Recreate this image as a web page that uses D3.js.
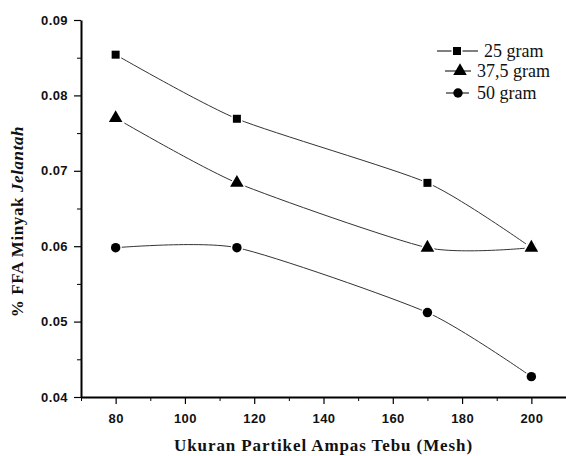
<!DOCTYPE html>
<html>
<head>
<meta charset="utf-8">
<script src="https://cdnjs.cloudflare.com/ajax/libs/d3/7.8.5/d3.min.js"></script>
<style>
  body { margin: 0; background: #fff; }
  .tick text { font-family: Arial, "Liberation Sans", sans-serif; font-weight: bold; font-size: 13px; letter-spacing: 0.4px; fill: #111; }
  .axis path, .axis line { stroke: #000; }
  .serif { font-family: "Liberation Serif", "Times New Roman", Times, serif; fill: #111; }
</style>
</head>
<body>
<div class="chart"></div>
<script>
// データ
const meshSizes = [80, 115, 170, 200];
const ffa25 = [0.0854, 0.0769, 0.0684, 0.0598];
const ffa375 = [0.0770, 0.0684, 0.0598, 0.0598];
const ffa50 = [0.0598, 0.0598, 0.0512, 0.0427];
const seriesNames = ["25 gram", "37,5 gram", "50 gram"];
const xTickValues = [80, 100, 120, 140, 160, 180, 200];
const xMinorValues = [70, 90, 110, 130, 150, 170, 190, 210];
const yTickValues = [0.04, 0.05, 0.06, 0.07, 0.08, 0.09];
const yMinorValues = [0.045, 0.055, 0.065, 0.075, 0.085];

const W = 566, H = 456;
const margin = { top: 20, right: 0, bottom: 59, left: 81 };
const width = W - margin.left - margin.right;
const height = H - margin.top - margin.bottom;

const svg = d3.select(".chart").append("svg")
    .attr("width", W).attr("height", H)
    .append("g")
    .attr("transform", `translate(${margin.left},${margin.top})`);

const x = d3.scaleLinear().domain([70, 210]).range([0, width]);
const y = d3.scaleLinear().domain([0.04, 0.09]).range([height, 0]);

// 軸
svg.append("g").attr("class", "axis")
    .attr("transform", `translate(0,${height})`)
    .call(d3.axisBottom(x).tickValues(xMinorValues).tickSize(4).tickFormat(""))
    .call(g => g.select(".domain").remove())
    .selectAll("line").attr("stroke-width", 1);

svg.append("g").attr("class", "axis")
    .attr("transform", `translate(0,${height})`)
    .call(d3.axisBottom(x).tickValues(xTickValues).tickSize(7).tickSizeOuter(0).tickPadding(10))
    .call(g => g.select(".domain").attr("stroke-width", 2))
    .selectAll("line").attr("stroke-width", 1.2);

svg.append("g").attr("class", "axis")
    .call(d3.axisLeft(y).tickValues(yMinorValues).tickSize(4).tickFormat(""))
    .call(g => g.select(".domain").remove())
    .selectAll("line").attr("stroke-width", 1);

svg.append("g").attr("class", "axis")
    .call(d3.axisLeft(y).tickValues(yTickValues).tickSize(7).tickSizeOuter(0).tickPadding(6).tickFormat(d3.format(".2f")))
    .call(g => g.select(".domain").attr("stroke-width", 2))
    .selectAll("line").attr("stroke-width", 1.2);

// 軸タイトル
svg.append("text")
    .attr("class", "serif")
    .attr("x", width / 2)
    .attr("y", height + 54)
    .attr("text-anchor", "middle")
    .style("font-weight", "bold")
    .style("font-size", "17px")
    .style("letter-spacing", "0.9px")
    .text("Ukuran Partikel Ampas Tebu (Mesh)");

const yTitle = svg.append("text")
    .attr("class", "serif")
    .attr("transform", `translate(${-58},${height / 2 + 13}) rotate(-90)`)
    .attr("text-anchor", "middle")
    .style("font-weight", "bold")
    .style("font-size", "17px")
    .style("letter-spacing", "0.6px");
yTitle.append("tspan").text("% FFA Minyak ");
yTitle.append("tspan").style("font-style", "italic").text("Jelantah");

// 系列
const series = [ffa25, ffa375, ffa50].map((vals, i) => ({
    name: seriesNames[i],
    points: meshSizes.map((m, j) => ({ mesh: m, ffa: vals[j] }))
}));
const symbols = [d3.symbolSquare, d3.symbolTriangle, d3.symbolCircle];
const symSizes = [64, 80, 70];

const line = d3.line()
    .x(d => x(d.mesh))
    .y(d => y(d.ffa))
    .curve(d3.curveCardinal.tension(0.35));

svg.selectAll(".series-line")
    .data(series)
    .enter().append("path")
    .attr("class", "series-line")
    .attr("d", d => line(d.points))
    .attr("fill", "none")
    .attr("stroke", "#333")
    .attr("stroke-width", 1);

series.forEach((s, i) => {
    svg.selectAll(".mark-" + i)
        .data(s.points)
        .enter().append("path")
        .attr("class", "mark-" + i)
        .attr("transform", d => `translate(${x(d.mesh)},${y(d.ffa)})`)
        .attr("d", d3.symbol().type(symbols[i]).size(symSizes[i]))
        .attr("fill", "#000")
        .attr("stroke", "#fff")
        .attr("stroke-width", 3)
        .attr("paint-order", "stroke");
});

// 凡例
const legendRows = [
    { x1: 356, x2: 397, cx: 376, tx: 403, y: 31 },
    { x1: 364, x2: 390, cx: 379, tx: 396, y: 51 },
    { x1: 365, x2: 388, cx: 377, tx: 396, y: 73 }
];
const legend = svg.selectAll(".legend")
    .data(series)
    .enter().append("g")
    .attr("class", "legend");

legend.append("line")
    .attr("x1", (d, i) => legendRows[i].x1)
    .attr("x2", (d, i) => legendRows[i].x2)
    .attr("y1", (d, i) => legendRows[i].y)
    .attr("y2", (d, i) => legendRows[i].y)
    .attr("stroke", "#000")
    .attr("stroke-width", 1);

legend.append("path")
    .attr("transform", (d, i) => `translate(${legendRows[i].cx},${legendRows[i].y})`)
    .attr("d", (d, i) => d3.symbol().type(symbols[i]).size(symSizes[i])())
    .attr("fill", "#000")
    .attr("stroke", "#fff")
    .attr("stroke-width", (d, i) => i === 0 ? 3 : 0)
    .attr("paint-order", "stroke");

legend.append("text")
    .attr("class", "serif")
    .attr("x", (d, i) => legendRows[i].tx)
    .attr("y", (d, i) => legendRows[i].y)
    .attr("dy", "0.33em")
    .style("font-size", "18px")
    .text(d => d.name);
</script>
</body>
</html>
